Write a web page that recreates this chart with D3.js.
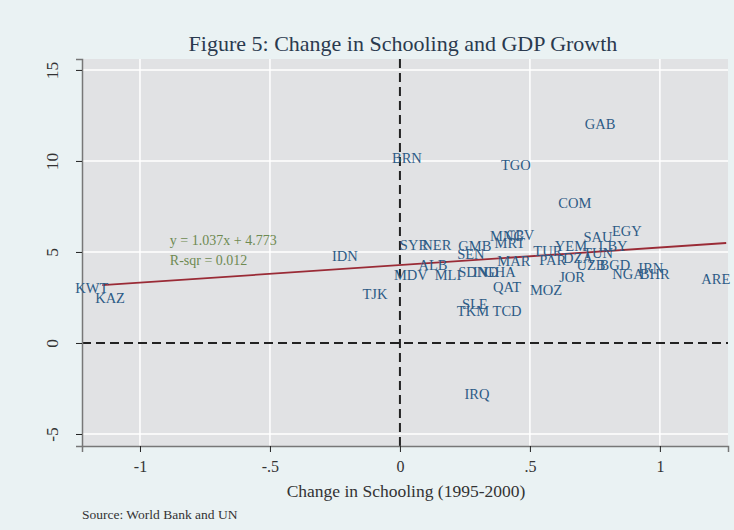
<!DOCTYPE html>
<html>
<head>
<meta charset="utf-8">
<script src="https://cdn.jsdelivr.net/npm/d3@7"></script>
<style>
  body { margin: 0; background: #eaf2f3; }
  text { font-family: "Liberation Serif", "DejaVu Serif", serif; }
</style>
</head>
<body>
<div id="chart"></div>
<script>
// country codes with change in schooling (x) and GDP growth (y)
const countries = ["GAB", "BRN", "TGO", "COM", "EGY", "SAU", "LBY", "YEM", "TUN", "TUR", "PAR", "DZA",
  "UZB", "BGD", "JOR", "IRN", "NGA", "BHR", "ARE", "MOZ", "QAT", "SLE", "TKM", "TCD", "IRQ",
  "SYR", "NER", "ALB", "MDV", "MLI", "GMB", "SEN", "SDN", "IND", "GHA", "MAR", "MNG", "CPV", "MRT",
  "IDN", "TJK", "KWT", "KAZ"]
const schooling = [0.77, 0.027, 0.446, 0.673, 0.873, 0.762, 0.82, 0.658, 0.762, 0.569, 0.588, 0.685,
  0.735, 0.827, 0.662, 0.965, 0.877, 0.98, 1.215, 0.562, 0.412, 0.288, 0.281, 0.412, 0.296,
  0.054, 0.142, 0.127, 0.042, 0.185, 0.288, 0.273, 0.28, 0.33, 0.385, 0.438, 0.412, 0.462, 0.423,
  -0.212, -0.096, -1.185, -1.115]
const growth = [12.03, 10.16, 9.78, 7.69, 6.15, 5.82, 5.33, 5.33, 4.95, 5.06, 4.56, 4.67,
  4.29, 4.29, 3.63, 4.12, 3.79, 3.79, 3.52, 2.91, 3.08, 2.14, 1.76, 1.76, -2.8,
  5.38, 5.38, 4.29, 3.74, 3.74, 5.33, 4.89, 3.90, 3.90, 3.90, 4.51, 5.88, 5.93, 5.49,
  4.78, 2.69, 3.02, 2.47]

// fitted line as drawn
const fitSlope = 0.965
const fitIntercept = 4.28
const fitText = ["y = 1.037x + 4.773", "R-sqr = 0.012"]

const xTicks = [-1, -0.5, 0, 0.5, 1]
const yTicks = [-5, 0, 5, 10, 15]

const width = 734, height = 530
const margin = { top: 59, right: 6, bottom: 84, left: 82 }

const svg = d3.select("#chart").append("svg")
  .attr("width", width)
  .attr("height", height)

svg.append("rect").attr("width", width).attr("height", height).attr("fill", "#eaf2f3")

const x = d3.scaleLinear().domain([-1.223, 1.262]).range([margin.left, width - margin.right])
const y = d3.scaleLinear().domain([-5.66, 15.6]).range([height - margin.bottom, margin.top])

// plot area
svg.append("rect")
  .attr("x", x.range()[0]).attr("y", y.range()[1])
  .attr("width", x.range()[1] - x.range()[0])
  .attr("height", y.range()[0] - y.range()[1])
  .attr("fill", "#e1e2e4")

// grid
svg.append("g").selectAll("line").data(xTicks.filter(d => d !== 0)).join("line")
  .attr("x1", d => x(d)).attr("x2", d => x(d))
  .attr("y1", y.range()[1]).attr("y2", y.range()[0])
  .attr("stroke", "#fff").attr("stroke-width", 1.5)
svg.append("g").selectAll("line").data(yTicks.filter(d => d !== 0)).join("line")
  .attr("y1", d => y(d)).attr("y2", d => y(d))
  .attr("x1", x.range()[0]).attr("x2", x.range()[1])
  .attr("stroke", "#fff").attr("stroke-width", 1.5)

// dashed reference lines
svg.append("line")
  .attr("x1", x(0)).attr("x2", x(0)).attr("y1", y.range()[1]).attr("y2", y.range()[0])
  .attr("stroke", "#222").attr("stroke-width", 2).attr("stroke-dasharray", "9,5")
svg.append("line")
  .attr("y1", y(0)).attr("y2", y(0)).attr("x1", x.range()[0]).attr("x2", x.range()[1])
  .attr("stroke", "#222").attr("stroke-width", 2).attr("stroke-dasharray", "9,5")

// stata style tick labels: "-.5", ".5"
const fmt = d => String(d).replace("0.", ".")

// axes
const xAxis = d3.axisBottom(x).tickValues(xTicks).tickSize(6).tickPadding(9).tickFormat(fmt)
const gx = svg.append("g").attr("transform", `translate(0,${y.range()[0]})`).call(xAxis)
gx.select(".domain").attr("stroke", "#777").attr("stroke-width", 1.5)
gx.selectAll(".tick line").attr("stroke", "#222")
gx.selectAll(".tick text").attr("font-size", 16).attr("fill", "#333")
  .style("font-family", "Liberation Serif, serif")

const yAxis = d3.axisLeft(y).tickValues(yTicks).tickSize(6).tickPadding(0).tickFormat(fmt)
const gy = svg.append("g").attr("transform", `translate(${x.range()[0]},0)`).call(yAxis)
gy.select(".domain").attr("stroke", "#777").attr("stroke-width", 1.5)
gy.selectAll(".tick line").attr("stroke", "#222")
gy.selectAll(".tick text")
  .attr("x", null)
  .attr("text-anchor", "middle")
  .attr("transform", "translate(-30,0) rotate(-90)")
  .attr("dy", "0.35em")
  .attr("font-size", 17.5).attr("fill", "#333")
  .style("font-family", "Liberation Serif, serif")

// fit line across data range
const xr = d3.extent(schooling)
const lineX = [xr[0] + 0.04, xr[1] + 0.04]
svg.append("line")
  .attr("x1", x(lineX[0])).attr("y1", y(fitSlope * lineX[0] + fitIntercept))
  .attr("x2", x(lineX[1])).attr("y2", y(fitSlope * lineX[1] + fitIntercept))
  .attr("stroke", "#9a2b36").attr("stroke-width", 1.8)

svg.append("g").selectAll("text").data(fitText).join("text")
  .attr("x", x(-0.885))
  .attr("y", (d, i) => y(5.4) + i * 20)
  .attr("font-size", 14)
  .attr("fill", "#6e8a52")
  .text(d => d)

// country labels
svg.append("g").selectAll("text").data(countries).join("text")
  .attr("x", (d, i) => x(schooling[i]))
  .attr("y", (d, i) => y(growth[i]))
  .attr("text-anchor", "middle")
  .attr("dy", "0.35em")
  .attr("font-size", 14.5)
  .attr("fill", "#2d5b86")
  .text(d => d)

// titles
svg.append("text")
  .attr("x", 403).attr("y", 51)
  .attr("text-anchor", "middle")
  .attr("font-size", 22)
  .attr("fill", "#2a3a4f")
  .text("Figure 5: Change in Schooling and GDP Growth")

svg.append("text")
  .attr("x", 406).attr("y", 497)
  .attr("text-anchor", "middle")
  .attr("font-size", 17.5)
  .attr("fill", "#333")
  .text("Change in Schooling (1995-2000)")

svg.append("text")
  .attr("x", 82).attr("y", 519)
  .attr("font-size", 13.5)
  .attr("fill", "#333")
  .text("Source: World Bank and UN")
</script>
</body>
</html>
